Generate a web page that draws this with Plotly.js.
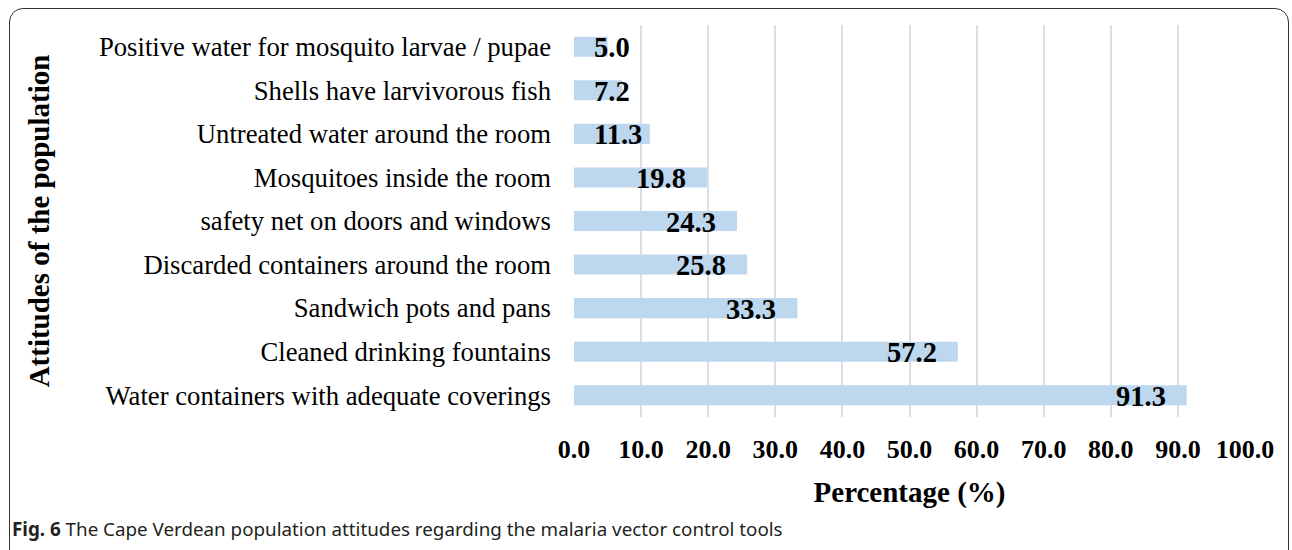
<!DOCTYPE html>
<html>
<head>
<meta charset="utf-8">
<script src="https://cdn.plot.ly/plotly-3.0.1.min.js"></script>
<style>
  html, body { margin: 0; padding: 0; width: 1292px; height: 550px; overflow: hidden; background: #ffffff; }
  #frame { position: absolute; left: 9px; top: 8px; width: 1280px; height: 620px; border: 1.6px solid #333333; border-radius: 14px; box-sizing: border-box; }
  #chart { position: absolute; left: 0; top: 0; width: 1292px; height: 550px; }
  #caption { position: absolute; left: 12px; top: 516px; font-family: "Noto Sans", sans-serif; font-size: 18.8px; line-height: 26px; color: #231f20; white-space: nowrap; }
</style>
</head>
<body>
<div id="frame"></div>
<div id="chart"></div>
<div id="caption"><b>Fig. 6</b> The Cape Verdean population attitudes regarding the malaria vector control tools</div>
<script>
// Categories listed top to bottom as in the figure
const categories = [
  "Positive water for mosquito larvae / pupae",
  "Shells have larvivorous fish",
  "Untreated water around the room",
  "Mosquitoes inside the room",
  "safety net on doors and windows",
  "Discarded containers around the room",
  "Sandwich pots and pans",
  "Cleaned drinking fountains",
  "Water containers with adequate coverings"
];
const percentages = [5.0, 7.2, 11.3, 19.8, 24.3, 25.8, 33.3, 57.2, 91.3];
const xTickValues = [0, 10, 20, 30, 40, 50, 60, 70, 80, 90, 100];
const xTickLabels = ["0.0", "10.0", "20.0", "30.0", "40.0", "50.0", "60.0", "70.0", "80.0", "90.0", "100.0"];

const serif = "Liberation Serif, Times New Roman, serif";
const labelSize = 28.5;
const plotLeft = 574, plotRight = 1245;
const pxPerUnit = (plotRight - plotLeft) / 100;

// value labels: right-aligned inside the bar end, unless the bar is too short,
// then left-aligned from the bar start (as Excel did)
const annotations = percentages.map((v, i) => {
  const txt = v.toFixed(1);
  const digits = txt.replace(".", "").length;
  const w = (digits * 0.5 + 0.25) * labelSize;
  const fits = v * pxPerUnit - 19 - w >= 18;
  return {
    x: fits ? v : 0,
    y: categories[i],
    xref: "x", yref: "y",
    text: "<b>" + txt + "</b>",
    showarrow: false,
    xanchor: fits ? "right" : "left",
    xshift: fits ? -19 : 18,
    yshift: -1,
    font: { family: serif, size: labelSize, color: "#000000" }
  };
});

const trace = {
  type: "bar",
  orientation: "h",
  x: percentages,
  y: categories,
  width: 0.46,
  marker: { color: "#bdd7ee", line: { width: 0 } },
  hoverinfo: "skip"
};

const layout = {
  width: 1292,
  height: 550,
  margin: { l: plotLeft, r: 1292 - plotRight, t: 25, b: 133, pad: 0 },
  paper_bgcolor: "rgba(0,0,0,0)",
  plot_bgcolor: "rgba(0,0,0,0)",
  showlegend: false,
  xaxis: {
    range: [0, 100],
    tickvals: xTickValues,
    ticktext: xTickLabels,
    showgrid: true,
    gridcolor: "#d9dee7",
    gridwidth: 2,
    zeroline: false,
    showline: false,
    ticks: "",
    ticklabelstandoff: 14,
    tickfont: { family: serif, size: 26, color: "#000000", weight: "bold" },
    title: { text: "<b>Percentage (%)</b>", font: { family: serif, size: 29, color: "#000000" }, standoff: 18 },
    fixedrange: true
  },
  yaxis: {
    type: "category",
    autorange: "reversed",
    showgrid: false,
    zeroline: false,
    showline: false,
    ticks: "",
    ticklabelstandoff: 22,
    tickfont: { family: serif, size: 26.7, color: "#000000" },
    title: { text: "<b>Attitudes of the population</b>", font: { family: serif, size: 29, color: "#000000" }, standoff: 40 },
    fixedrange: true
  },
  annotations: annotations
};

Plotly.newPlot("chart", [trace], layout, { staticPlot: true, displayModeBar: false });
</script>
</body>
</html>
